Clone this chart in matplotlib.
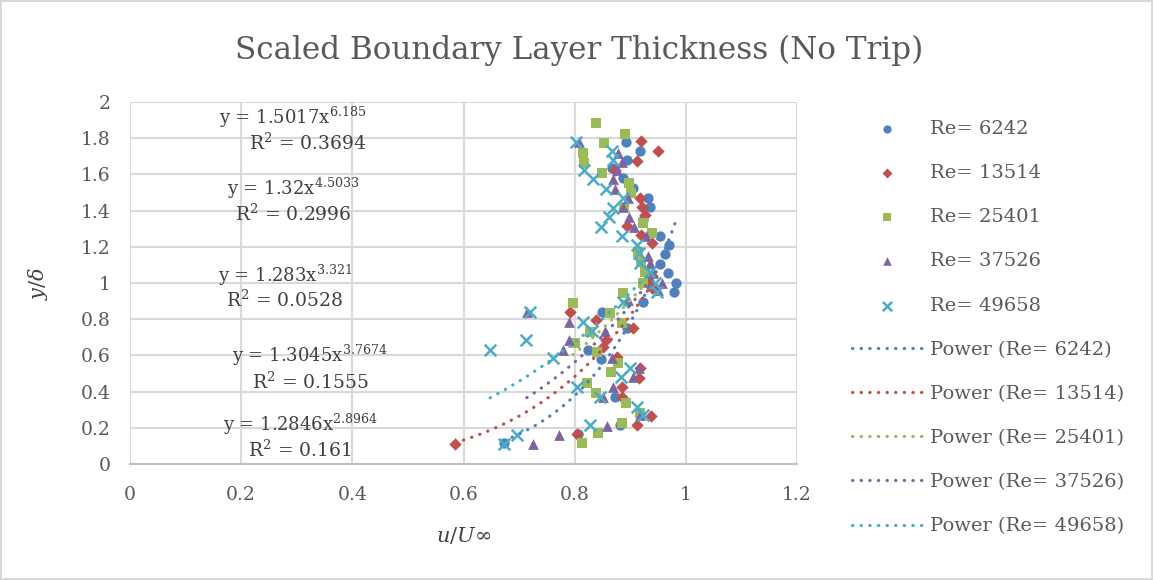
import matplotlib
matplotlib.use("Agg")
import matplotlib.pyplot as plt
import numpy as np

# series names and readings of u/U_inf and y/delta off the picture
re_labels = ["Re= 6242", "Re= 13514", "Re= 25401", "Re= 37526", "Re= 49658"]

u_6242 = [0.673, 0.806, 0.882, 0.873, 0.847, 0.824, 0.894, 0.849, 0.923, 0.979,
          0.982, 0.968, 0.954, 0.963, 0.970, 0.954, 0.923, 0.936, 0.932, 0.905,
          0.887, 0.867, 0.894, 0.918, 0.892]
y_6242 = [0.116, 0.166, 0.215, 0.370, 0.580, 0.630, 0.751, 0.840, 0.895, 0.950,
          1.000, 1.055, 1.105, 1.160, 1.210, 1.260, 1.348, 1.420, 1.470, 1.525,
          1.580, 1.635, 1.680, 1.729, 1.779]

u_13514 = [0.585, 0.804, 0.912, 0.937, 0.885, 0.885, 0.916, 0.918, 0.876, 0.851,
           0.856, 0.905, 0.838, 0.792, 0.939, 0.932, 0.939, 0.919, 0.894, 0.927,
           0.921, 0.918, 0.873, 0.912, 0.950, 0.919]
y_13514 = [0.110, 0.166, 0.215, 0.265, 0.370, 0.425, 0.475, 0.530, 0.591, 0.646,
           0.685, 0.751, 0.796, 0.840, 0.972, 1.017, 1.221, 1.265, 1.315, 1.376,
           1.420, 1.470, 1.624, 1.674, 1.729, 1.785]

u_25401 = [0.813, 0.842, 0.885, 0.918, 0.892, 0.838, 0.822, 0.865, 0.878, 0.840,
           0.801, 0.828, 0.885, 0.864, 0.797, 0.887, 0.923, 0.927, 0.919, 0.914,
           0.939, 0.923, 0.889, 0.901, 0.898, 0.849, 0.817, 0.815, 0.853, 0.891,
           0.838]
y_25401 = [0.116, 0.171, 0.227, 0.282, 0.337, 0.392, 0.448, 0.508, 0.558, 0.619,
           0.668, 0.729, 0.779, 0.834, 0.890, 0.945, 1.000, 1.061, 1.116, 1.171,
           1.276, 1.331, 1.420, 1.497, 1.552, 1.608, 1.663, 1.718, 1.773, 1.823,
           1.884]

u_37526 = [0.725, 0.772, 0.858, 0.918, 0.851, 0.869, 0.905, 0.916, 0.867, 0.779,
           0.790, 0.855, 0.790, 0.714, 0.896, 0.950, 0.957, 0.941, 0.936, 0.932,
           0.928, 0.907, 0.898, 0.887, 0.896, 0.873, 0.869, 0.876, 0.885, 0.878,
           0.808]
y_37526 = [0.110, 0.160, 0.210, 0.271, 0.370, 0.425, 0.481, 0.530, 0.586, 0.630,
           0.685, 0.735, 0.785, 0.840, 0.906, 0.961, 1.000, 1.055, 1.110, 1.149,
           1.260, 1.309, 1.365, 1.420, 1.470, 1.519, 1.575, 1.624, 1.669, 1.718,
           1.779]

u_49658 = [0.673, 0.696, 0.828, 0.923, 0.912, 0.846, 0.804, 0.883, 0.900, 0.761,
           0.648, 0.712, 0.831, 0.815, 0.720, 0.887, 0.948, 0.945, 0.936, 0.918,
           0.916, 0.912, 0.885, 0.847, 0.862, 0.869, 0.887, 0.856, 0.833, 0.817,
           0.869, 0.867, 0.802]
y_49658 = [0.110, 0.160, 0.215, 0.271, 0.315, 0.370, 0.425, 0.481, 0.530, 0.586,
           0.630, 0.685, 0.735, 0.785, 0.840, 0.895, 0.950, 1.000, 1.061, 1.110,
           1.166, 1.210, 1.260, 1.309, 1.365, 1.414, 1.470, 1.519, 1.575, 1.624,
           1.680, 1.729, 1.779]

# power fits y = a*x^b as printed on the chart
fit_a = [1.5017, 1.32, 1.283, 1.3045, 1.2846]
fit_b = [6.185, 4.5033, 3.321, 3.7674, 2.8964]
fit_r2 = ["0.3694", "0.2996", "0.0528", "0.1555", "0.161"]

xs = [u_6242, u_13514, u_25401, u_37526, u_49658]
ys = [y_6242, y_13514, y_25401, y_37526, y_49658]
colors = ["#4F81BD", "#C0504D", "#9BBB59", "#8064A2", "#4BACC6"]
markers = ["o", "D", "s", "^", "x"]
msizes = [55, 40, 55, 60, 70]

plt.rcParams["font.family"] = ["DejaVu Serif"]
plt.rcParams["mathtext.fontset"] = "dejavuserif"

fig = plt.figure(figsize=(11.53, 5.80), dpi=100)
fig.patch.set_edgecolor("#d9d9d9")
fig.patch.set_linewidth(1.5)
ax = fig.add_axes([130/1153, 1-464/580, 667/1153, 362/580])

handles = []
for i in range(5):
    if markers[i] == "x":
        h = ax.scatter(xs[i], ys[i], s=msizes[i], marker="x", color=colors[i],
                       linewidths=1.8, zorder=3, label=re_labels[i])
    else:
        h = ax.scatter(xs[i], ys[i], s=msizes[i], marker=markers[i], color=colors[i],
                       linewidths=0, zorder=3, label=re_labels[i])
    handles.append(h)

for i in range(5):
    xx = np.linspace(min(xs[i]), max(xs[i]), 100)
    h, = ax.plot(xx, fit_a[i] * xx ** fit_b[i], color=colors[i], lw=2.3,
                 linestyle=(0, (0.1, 2.6)), dash_capstyle="round", zorder=4,
                 label="Power (" + re_labels[i] + ")")
    handles.append(h)

ax.set_xlim(0, 1.2)
ax.set_ylim(0, 2)
ax.set_xticks(np.arange(0, 1.21, 0.2))
ax.set_xticklabels(["0", "0.2", "0.4", "0.6", "0.8", "1", "1.2"])
ax.set_yticks(np.arange(0, 2.01, 0.2))
ax.set_yticklabels(["0", "0.2", "0.4", "0.6", "0.8", "1", "1.2", "1.4", "1.6", "1.8", "2"])
ax.grid(True, color="#d9d9d9", lw=1.5)
ax.set_axisbelow(True)
for s in ["top", "right", "left"]:
    ax.spines[s].set_visible(False)
ax.spines["bottom"].set_color("#bfbfbf")
ax.spines["bottom"].set_linewidth(1.5)
ax.tick_params(axis="x", length=0, labelsize=13.5, colors="#595959", pad=16)
ax.tick_params(axis="y", length=0, labelsize=13.5, colors="#595959", pad=14)

ax.set_xlabel(r"$u/U\infty$", fontsize=15, color="#404040", labelpad=15)
ax.set_ylabel(r"$y/\delta$", fontsize=15, color="#404040", labelpad=22)
fig.text(579/1153, 1-50/580, "Scaled Boundary Layer Thickness (No Trip)",
         ha="center", va="center", fontsize=22.3, color="#595959")

# trendline equation labels, placed where the chart has them
eq_pos = [(293, 117, 308, 143), (293, 188, 293, 214), (285, 275, 285, 300),
          (310, 355, 310, 382), (300, 424, 300, 450)]
for i in range(5):
    ex, ey, rx, ry = eq_pos[i]
    fig.text(ex/1153, 1-ey/580, "y = %sx$^{%s}$" % (fit_a[i], fit_b[i]),
             ha="center", va="center", fontsize=13, color="#404040")
    fig.text(rx/1153, 1-ry/580, "R$^{2}$ = %s" % fit_r2[i],
             ha="center", va="center", fontsize=13.5, color="#404040")

fig.legend(handles=handles, loc="upper left", bbox_to_anchor=(852/1153, 1-120/580),
           frameon=False, fontsize=14, labelspacing=1.345, handlelength=3.6,
           handletextpad=0.4, borderpad=0, borderaxespad=0, markerscale=0.8,
           labelcolor="#595959", scatterpoints=1)

fig.savefig("out.png", dpi=100)
